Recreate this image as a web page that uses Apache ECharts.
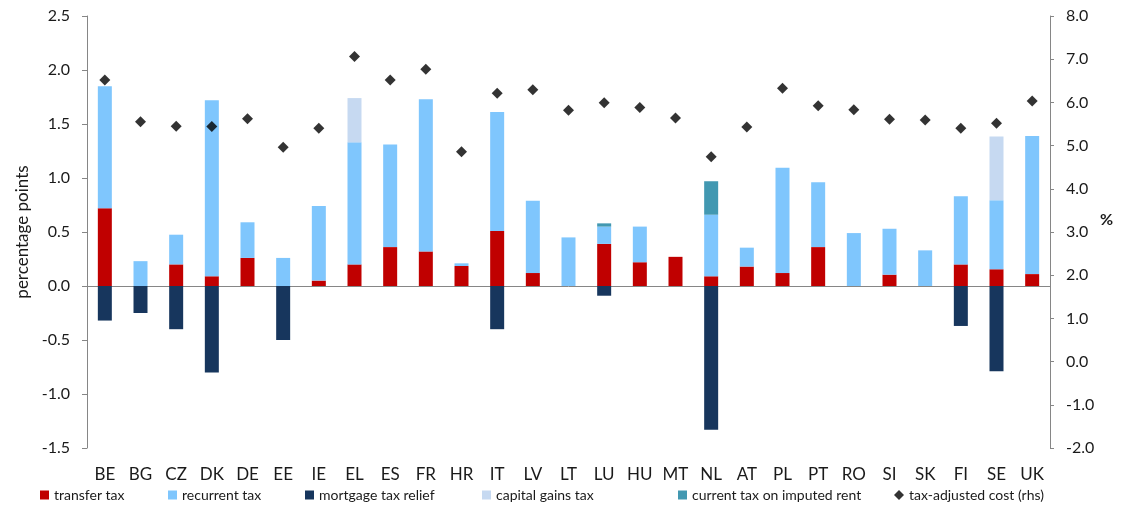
<!DOCTYPE html>
<html>
<head>
<meta charset="utf-8">
<script src="https://cdn.jsdelivr.net/npm/echarts@6/dist/echarts.min.js"></script>
<style>
  html, body { margin: 0; padding: 0; background: #ffffff; }
  #chart { width: 1121px; height: 508px; }
</style>
</head>
<body>
<div id="chart"></div>
<script>
const categories = ['BE','BG','CZ','DK','DE','EE','IE','EL','ES','FR','HR','IT','LV','LT','LU','HU','MT','NL','AT','PL','PT','RO','SI','SK','FI','SE','UK'];
const transferTax   = [0.72, 0, 0.20, 0.09, 0.26, 0, 0.05, 0.20, 0.36, 0.32, 0.185, 0.51, 0.12, 0, 0.39, 0.22, 0.27, 0.09, 0.18, 0.12, 0.36, 0, 0.105, 0, 0.20, 0.155, 0.11];
const recurrentTax  = [1.13, 0.23, 0.275, 1.63, 0.33, 0.26, 0.69, 1.13, 0.95, 1.41, 0.025, 1.10, 0.67, 0.45, 0.16, 0.33, 0, 0.57, 0.175, 0.975, 0.60, 0.49, 0.425, 0.33, 0.63, 0.64, 1.28];
const mortgageRelief = [-0.32, -0.25, -0.40, -0.80, 0, -0.50, 0, 0, 0, 0, 0, -0.40, 0, 0, -0.09, 0, 0, -1.33, 0, 0, 0, 0, 0, 0, -0.37, -0.79, 0];
const capitalGainsTax = [0, 0, 0, 0, 0, 0, 0, 0.41, 0, 0, 0, 0, 0, 0, 0, 0, 0, 0, 0, 0, 0, 0, 0, 0, 0, 0.59, 0];
const imputedRentTax = [0, 0, 0, 0, 0, 0, 0, 0, 0, 0, 0, 0, 0, 0, 0.03, 0, 0, 0.31, 0, 0, 0, 0, 0, 0, 0, 0, 0];
const taxAdjustedCost = [6.52, 5.55, 5.45, 5.44, 5.62, 4.96, 5.40, 7.06, 6.52, 6.77, 4.86, 6.21, 6.29, 5.82, 5.99, 5.88, 5.64, 4.74, 5.43, 6.33, 5.92, 5.83, 5.61, 5.59, 5.40, 5.52, 6.03];

const FONT = 'Lato, "Open Sans", sans-serif';
const TXT = '#1a1a1a';
const AXIS = '#868686';

const chart = echarts.init(document.getElementById('chart'));

function legendAt(left, name, icon, w, h) {
  return {
    left: left, top: 488, padding: 0, data: [name], icon: icon,
    itemWidth: w, itemHeight: h, itemGap: 0,
    selectedMode: false,
    textStyle: { fontFamily: FONT, fontSize: 14, color: TXT }
  };
}

const barBase = { type: 'bar', stack: 'total', barWidth: 14, xAxisIndex: 0, yAxisIndex: 0 };

chart.setOption({
  animation: false,
  textStyle: { fontFamily: FONT },
  grid: { left: 87, right: 71, top: 16, bottom: 60, containLabel: false },
  legend: [
    legendAt(40, 'transfer tax', 'rect', 9, 9),
    legendAt(168, 'recurrent tax', 'rect', 9, 9),
    legendAt(305, 'mortgage tax relief', 'rect', 9, 9),
    legendAt(482, 'capital gains tax', 'rect', 9, 9),
    legendAt(678, 'current tax on imputed rent', 'rect', 9, 9),
    legendAt(894, 'tax-adjusted cost (rhs)', 'diamond', 10, 10)
  ],
  graphic: [
    { type: 'text', left: 1100, top: 212, style: { text: '%', fontFamily: FONT, fontSize: 16, fontWeight: 'bold', fill: TXT } }
  ],
  xAxis: [
    {
      type: 'category', data: categories, position: 'bottom',
      axisLine: { show: false, onZero: false },
      axisTick: { show: false },
      axisLabel: { fontFamily: FONT, fontSize: 17, color: TXT, margin: 18, interval: 0 }
    },
    {
      type: 'category', data: categories, position: 'bottom',
      axisLine: { show: true, onZero: true, onZeroAxisIndex: 0, lineStyle: { color: AXIS, width: 1 } },
      axisTick: { show: false },
      axisLabel: { show: false }
    }
  ],
  yAxis: [
    {
      type: 'value', min: -1.5, max: 2.5, interval: 0.5, position: 'left',
      name: 'percentage points', nameLocation: 'middle', nameRotate: 90, nameGap: 46,
      nameTextStyle: { fontFamily: FONT, fontSize: 17, color: TXT },
      axisLine: { show: true, lineStyle: { color: AXIS } },
      axisTick: { show: true, length: 5, inside: false, lineStyle: { color: AXIS } },
      splitLine: { show: false },
      axisLabel: { fontFamily: FONT, fontSize: 16, color: TXT, margin: 17, formatter: v => v.toFixed(1) }
    },
    {
      type: 'value', min: -2, max: 8, interval: 1, position: 'right',
      axisLine: { show: true, lineStyle: { color: AXIS } },
      axisTick: { show: true, length: 4, inside: false, lineStyle: { color: AXIS } },
      splitLine: { show: false },
      axisLabel: { fontFamily: FONT, fontSize: 16, color: TXT, margin: 16, formatter: v => v.toFixed(1) }
    }
  ],
  series: [
    Object.assign({}, barBase, { name: 'transfer tax', data: transferTax, itemStyle: { color: '#C00000' } }),
    Object.assign({}, barBase, { name: 'recurrent tax', data: recurrentTax, itemStyle: { color: '#7FC6FD' } }),
    Object.assign({}, barBase, { name: 'mortgage tax relief', data: mortgageRelief, itemStyle: { color: '#17365D' } }),
    Object.assign({}, barBase, { name: 'capital gains tax', data: capitalGainsTax, itemStyle: { color: '#C6D9F1' } }),
    Object.assign({}, barBase, { name: 'current tax on imputed rent', data: imputedRentTax, itemStyle: { color: '#4298B1' } }),
    {
      name: 'tax-adjusted cost (rhs)', type: 'scatter', xAxisIndex: 0, yAxisIndex: 1,
      data: taxAdjustedCost, symbol: 'diamond', symbolSize: 11, z: 5,
      itemStyle: { color: '#000000' }
    }
  ]
});
</script>
</body>
</html>
